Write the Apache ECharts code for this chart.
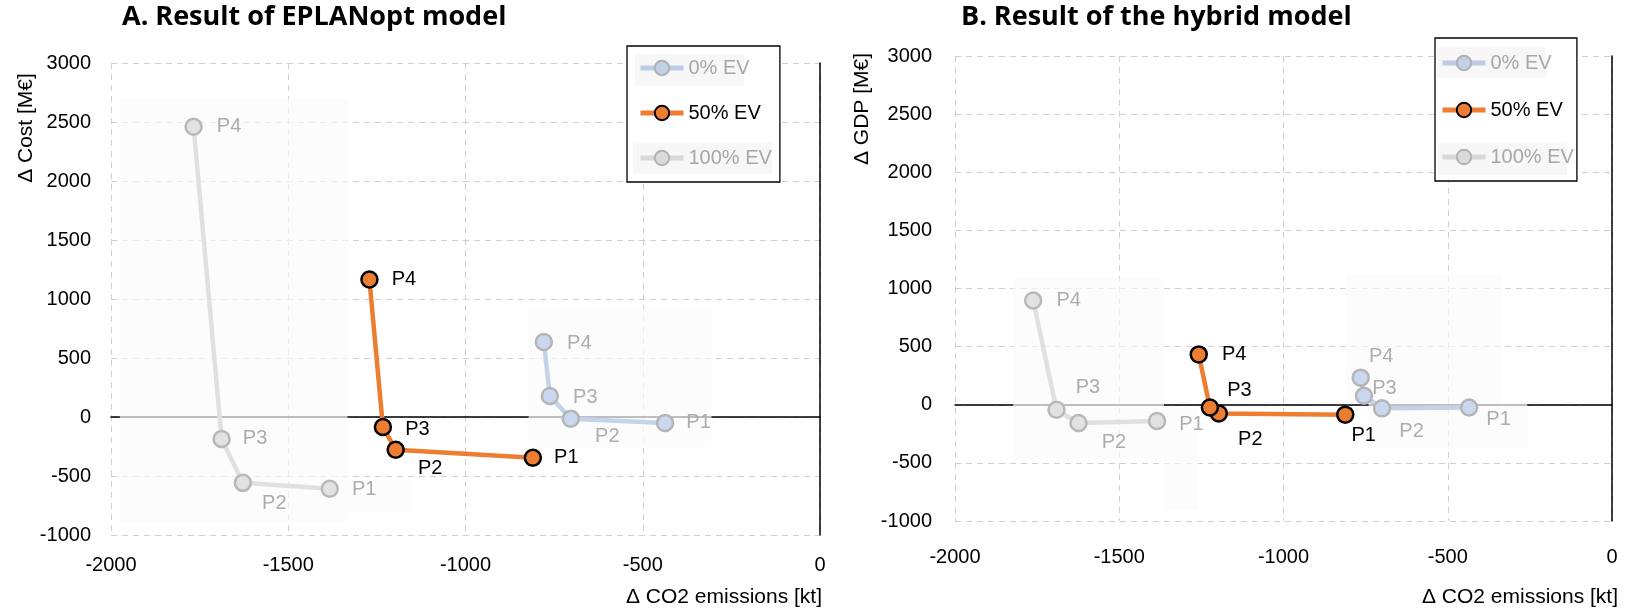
<!DOCTYPE html>
<html>
<head>
<meta charset="utf-8">
<script src="https://cdn.jsdelivr.net/npm/echarts@6/dist/echarts.min.js"></script>
<style>
html,body{margin:0;padding:0;background:#fff;}
#chart{width:1633px;height:608px;}
</style>
</head>
<body>
<div id="chart"></div>
<script>
// ---------------- data ----------------
const pointNames = ['P1', 'P2', 'P3', 'P4'];
const seriesNames = ['0% EV', '50% EV', '100% EV'];
const xTicks = [-2000, -1500, -1000, -500, 0];
const yTicks = [-1000, -500, 0, 500, 1000, 1500, 2000, 2500, 3000];

// Panel A: EPLANopt model (x = delta CO2 [kt], y = delta cost [M€])
const co2A_0   = [-437, -703, -762, -779];
const costA_0  = [-50, -14, 178, 635];
const co2A_50  = [-810, -1197, -1233, -1271];
const costA_50 = [-346, -277, -85, 1165];
const co2A_100 = [-1383, -1628, -1688, -1767];
const costA_100= [-608, -558, -186, 2460];

// Panel B: hybrid model (x = delta CO2 [kt], y = delta GDP [M€])
const co2B_0   = [-435, -700, -755, -765];
const gdpB_0   = [-23, -31, 77, 233];
const co2B_50  = [-812, -1197, -1224, -1258];
const gdpB_50  = [-85, -75, -23, 433];
const co2B_100 = [-1385, -1624, -1691, -1762];
const gdpB_100 = [-140, -157, -43, 897];

// ---------------- layout / style (not data) ----------------
const FONT = "'Liberation Sans', sans-serif";
const FADE_TXT = '#adadad';
const styles = {
  '0% EV':   {line: '#c3d3ec', fill: '#c9d8ef', border: '#b5b5b5', label: FADE_TXT},
  '50% EV':  {line: '#ED7D31', fill: '#ED7D31', border: '#000000', label: '#000000'},
  '100% EV': {line: '#e0e0e0', fill: '#e2e2e2', border: '#b8b8b8', label: FADE_TXT}
};
// label offsets [dx of label centre from point, dy] per point P1..P4
const labOffA = {
  '0% EV':   [[29,0],[32,18],[31,1],[31,1]],
  '50% EV':  [[29,0],[30,19],[30,2],[30,0]],
  '100% EV': [[30,1],[27,21],[29,0],[31,0]]
};
const labOffB = {
  '0% EV':   [[25,12],[25,23],[16,-7],[16,-21]],
  '50% EV':  [[14,21],[27,26],[25,-17],[31,0]],
  '100% EV': [[30,3],[31,19],[27,-22],[31,0]]
};
// faint boxes in data units [[x1,y1],[x2,y2]]
const fadeBoxesA = [
  [[-1975, 2700], [-1333, -887]],
  [[-1333, -534], [-1150, -813]],
  [[-822, 920], [-306, -258]]
];
const fadeBoxesB = [
  [[-1823, 1087], [-1364, -464]],
  [[-1364, -30], [-1258, -910]],
  [[-812, 1130], [-333, 20]],
  [[-741, 20], [-258, -379]]
];

function buildSeries(name, xs, ys, offs, gi) {
  const st = styles[name];
  const data = xs.map((x, i) => {
    const o = offs[i];
    return {
      value: [x, ys[i]],
      name: pointNames[i],
      label: {offset: [o[0] - 30, o[1]]}
    };
  });
  return {
    type: 'line',
    name: name,
    xAxisIndex: gi * 2,
    yAxisIndex: gi * 2,
    data: data,
    symbol: 'circle',
    symbolSize: 16,
    lineStyle: {color: st.line, width: 4.5},
    itemStyle: {color: st.fill, borderColor: st.border, borderWidth: 2.5},
    label: {
      show: true, position: 'right', distance: 13,
      formatter: p => p.name,
      color: st.label, fontFamily: FONT, fontSize: 20
    },
    emphasis: {disabled: true},
    animation: false,
    z: name === '50% EV' ? 3 : 2
  };
}

const grids = [
  {left: 111, right: 1633 - 820, top: 63, bottom: 608 - 535},
  {left: 955, right: 1633 - 1612, top: 56, bottom: 608 - 521}
];

const plain = v => String(v);

function xAxes(gi, labelMargin) {
  return [
    {gridIndex: gi, type: 'value', min: xTicks[0], max: xTicks[xTicks.length - 1], interval: 500,
     position: 'bottom',
     axisLine: {show: false, onZero: false}, axisTick: {show: false},
     axisLabel: {color: '#000', fontFamily: FONT, fontSize: 20, margin: labelMargin, formatter: plain},
     splitLine: {show: true, lineStyle: {type: [6, 5], color: '#cfcfcf', width: 1}}},
    {gridIndex: gi, type: 'value', min: xTicks[0], max: xTicks[xTicks.length - 1], interval: 500,
     axisLine: {show: true, onZero: true, lineStyle: {color: '#000', width: 1.5}},
     axisTick: {show: false}, axisLabel: {show: false}, splitLine: {show: false}}
  ];
}
function yAxes(gi, labelMargin) {
  return [
    {gridIndex: gi, type: 'value', min: yTicks[0], max: yTicks[yTicks.length - 1], interval: 500,
     position: 'left',
     axisLine: {show: false, onZero: false}, axisTick: {show: false},
     axisLabel: {color: '#000', fontFamily: FONT, fontSize: 20, margin: labelMargin, formatter: plain},
     splitLine: {show: true, lineStyle: {type: [6, 5], color: '#cfcfcf', width: 1}}},
    {gridIndex: gi, type: 'value', min: yTicks[0], max: yTicks[yTicks.length - 1], interval: 500,
     position: 'right',
     axisLine: {show: true, onZero: false, lineStyle: {color: '#000', width: 1.5}},
     axisTick: {show: false}, axisLabel: {show: false}, splitLine: {show: false}}
  ];
}

function legendFor(left, top, gap, padding) {
  return {
    orient: 'vertical', left: left, top: top,
    data: seriesNames.map(n => ({name: n, textStyle: {color: styles[n].label},
                                 lineStyle: {width: 5}})),
    itemWidth: 43, itemHeight: 18, itemGap: gap,
    padding: padding,
    borderColor: '#000', borderWidth: 1.3, backgroundColor: '#fff',
    lineStyle: {width: 5},
    selectedMode: false,
    textStyle: {fontFamily: FONT, fontSize: 20},
    z: 5
  };
}

const series = [
  buildSeries('0% EV', co2A_0, costA_0, labOffA['0% EV'], 0),
  buildSeries('100% EV', co2A_100, costA_100, labOffA['100% EV'], 0),
  buildSeries('50% EV', co2A_50, costA_50, labOffA['50% EV'], 0),
  buildSeries('0% EV', co2B_0, gdpB_0, labOffB['0% EV'], 1),
  buildSeries('100% EV', co2B_100, gdpB_100, labOffB['100% EV'], 1),
  buildSeries('50% EV', co2B_50, gdpB_50, labOffB['50% EV'], 1)
];

// faint highlight behind the greyed legend entries (pixel layout)
const legendShade = [
  [635, 54, 109, 32], [633, 143, 139, 31],
  [1437, 47, 109, 31], [1438, 143, 129, 32]
].map(r => ({type: 'rect', z: 6, silent: true,
             shape: {x: r[0], y: r[1], width: r[2], height: r[3]},
             style: {fill: 'rgba(0,0,0,0.03)'}}));

const textEls = [
  {type: 'text', left: 122, top: 4, z: 6,
   style: {text: 'A. Result of EPLANopt model', font: "bold 27px 'Open Sans', sans-serif", fill: '#000'}},
  {type: 'text', left: 961, top: 4, z: 6,
   style: {text: 'B. Result of the hybrid model', font: "bold 27px 'Open Sans', sans-serif", fill: '#000'}},
  {type: 'text', x: 26, y: 128, rotation: Math.PI / 2, z: 6,
   style: {text: 'Δ Cost [M€]', font: "21px " + FONT, fill: '#000', textAlign: 'center', textVerticalAlign: 'middle'}},
  {type: 'text', x: 862, y: 109, rotation: Math.PI / 2, z: 6,
   style: {text: 'Δ GDP [M€]', font: "21px " + FONT, fill: '#000', textAlign: 'center', textVerticalAlign: 'middle'}},
  {type: 'text', x: 822, y: 597, z: 6,
   style: {text: 'Δ CO2 emissions [kt]', font: "21px " + FONT, fill: '#000', textAlign: 'right', textVerticalAlign: 'middle'}},
  {type: 'text', x: 1618, y: 597, z: 6,
   style: {text: 'Δ CO2 emissions [kt]', font: "21px " + FONT, fill: '#000', textAlign: 'right', textVerticalAlign: 'middle'}}
].concat(legendShade);

const option = {
  backgroundColor: '#fff',
  animation: false,
  grid: grids,
  xAxis: [].concat(xAxes(0, 20), xAxes(1, 26)),
  yAxis: [].concat(yAxes(0, 20), yAxes(1, 23)),
  legend: [
    legendFor(627, 46, 25, [12, 8, 14, 11]),
    legendFor(1435, 38, 27, [15, 3, 14, 5])
  ],
  series: series,
  graphic: {elements: textEls}
};

const chart = echarts.init(document.getElementById('chart'), null, {renderer: 'canvas'});
chart.setOption(option);

// faint boxes, placed through the axes' own scales
function boxEls(boxes, gi) {
  return boxes.map(b => {
    const p1 = chart.convertToPixel({xAxisIndex: gi * 2, yAxisIndex: gi * 2}, b[0]);
    const p2 = chart.convertToPixel({xAxisIndex: gi * 2, yAxisIndex: gi * 2}, b[1]);
    return {
      type: 'rect', z: 1, silent: true,
      shape: {x: Math.min(p1[0], p2[0]), y: Math.min(p1[1], p2[1]),
              width: Math.abs(p2[0] - p1[0]), height: Math.abs(p2[1] - p1[1])},
      style: {fill: 'rgba(251,251,251,0.68)'}
    };
  });
}
chart.setOption({graphic: {elements: textEls.concat(boxEls(fadeBoxesA, 0), boxEls(fadeBoxesB, 1))}});
</script>
</body>
</html>
